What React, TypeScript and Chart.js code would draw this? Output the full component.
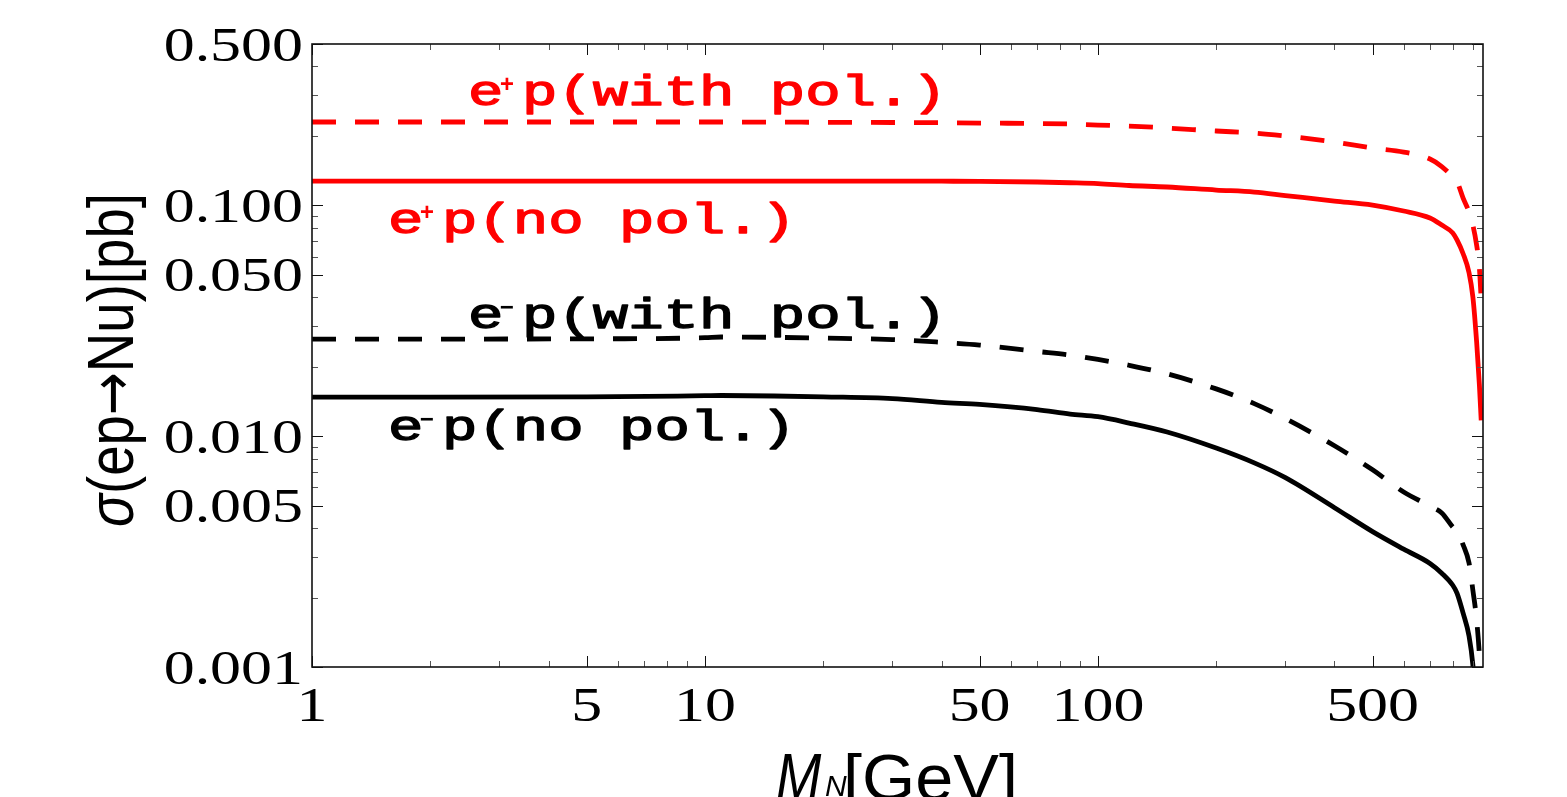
import React, { useEffect, useRef } from "react";
import { Chart, registerables } from "chart.js";

Chart.register(...registerables);

// ---- data ----
const massValues = [1, 2, 5, 10, 11, 15, 20, 30, 40, 50, 70, 85, 100, 120, 150, 200, 250, 300, 400, 500, 600, 700, 750, 800, 820, 850, 880, 900, 920, 935, 945];

const ePlusWithPol = [0.2296, 0.2296, 0.2296, 0.2296, 0.2296, 0.2294, 0.229, 0.2285, 0.228, 0.2273, 0.2262, 0.225, 0.2228, 0.2206, 0.2163, 0.2099, 0.2057, 0.1996, 0.1881, 0.1772, 0.1702, 0.1587, 0.1473, 0.1327, 0.1268, 0.1075, 0.0936, 0.0821, 0.0673, 0.0535, 0.0389];
const ePlusNoPol = [0.1274, 0.1274, 0.1274, 0.1274, 0.1274, 0.1274, 0.1274, 0.1273, 0.1272, 0.127, 0.1262, 0.1253, 0.1243, 0.1219, 0.1201, 0.1165, 0.1142, 0.1103, 0.1044, 0.1003, 0.0945, 0.0881, 0.0821, 0.0759, 0.0708, 0.0617, 0.0511, 0.0401, 0.0256, 0.0167, 0.0117];
const eMinusWithPol = [0.02635, 0.02635, 0.0264, 0.0267, 0.02689, 0.0268, 0.0266, 0.02622, 0.0255, 0.02482, 0.02329, 0.02246, 0.0215, 0.02029, 0.01862, 0.01603, 0.01384, 0.01192, 0.00909, 0.00715, 0.00573, 0.00498, 0.00465, 0.00404, 0.00388, 0.00338, 0.00282, 0.00215, 0.0016, 0.00113, 0.0008];
const eMinusNoPol = [0.01477, 0.01477, 0.0148, 0.01497, 0.015, 0.01493, 0.0148, 0.01455, 0.014, 0.01372, 0.01304, 0.01247, 0.01214, 0.0114, 0.01042, 0.00888, 0.00766, 0.00661, 0.0049, 0.00386, 0.00324, 0.00281, 0.00255, 0.00226, 0.00209, 0.00171, 0.00136, 0.00102, 0.0006, null, null];

const xMajorTicks = [1, 5, 10, 50, 100, 500];
const xTickLabels = ["1", "5", "10", "50", "100", "500"];
const xMinorTicks = [2, 3, 4, 6, 7, 8, 9, 20, 30, 40, 60, 70, 80, 90, 200, 300, 400, 600, 700, 800, 900];
const yMajorTicks = [0.5, 0.1, 0.05, 0.01, 0.005, 0.001];
const yTickLabels = ["0.500", "0.100", "0.050", "0.010", "0.005", "0.001"];
const yMinorTicks = [0.4, 0.3, 0.2, 0.09, 0.08, 0.07, 0.06, 0.04, 0.03, 0.02, 0.009, 0.008, 0.007, 0.006, 0.004, 0.003, 0.002];

const seriesNames = ["e⁺p(with pol.)", "e⁺p(no pol.)", "e⁻p(with pol.)", "e⁻p(no pol.)"];
const xTitle = "M_N[GeV]";
const yTitleParts = ["σ", "(ep", "→", "Nu)[pb]"];

const RED = "#ff0000";
const BLACK = "#000000";

function toPoints(vals: (number | null)[]) {
  return massValues.map((m, i) => ({ x: m, y: vals[i] }));
}

function drawStretched(ctx: CanvasRenderingContext2D, text: string, x: number, y: number, sx: number, align: CanvasTextAlign, strokeW = 0) {
  ctx.save();
  ctx.translate(x, y);
  ctx.scale(sx, 1);
  ctx.textAlign = align;
  ctx.fillText(text, 0, 0);
  if (strokeW > 0) {
    ctx.lineWidth = strokeW;
    ctx.lineJoin = "round";
    ctx.strokeStyle = ctx.fillStyle;
    ctx.strokeText(text, 0, 0);
  }
  ctx.restore();
}

const SANS = "'Liberation Sans', Arial, sans-serif";

const decorPlugin = {
  id: "decor",
  afterDraw(chart: any) {
    const ctx: CanvasRenderingContext2D = chart.ctx;
    const a = chart.chartArea;
    const xs = chart.scales.x;
    const ys = chart.scales.y;
    ctx.save();

    // ticks on all four sides (pointing inward)
    const tick = (x1: number, y1: number, x2: number, y2: number) => {
      ctx.beginPath();
      ctx.moveTo(x1, y1);
      ctx.lineTo(x2, y2);
      ctx.stroke();
    };
    ctx.lineWidth = 1;
    const majLen = 11;
    const minLen = 6;
    ctx.strokeStyle = "#111";
    xMajorTicks.forEach((v) => {
      const px = Math.round(xs.getPixelForValue(v)) + 0.5;
      tick(px, a.bottom, px, a.bottom - majLen);
      tick(px, a.top, px, a.top + majLen);
    });
    yMajorTicks.forEach((v) => {
      const py = Math.round(ys.getPixelForValue(v)) + 0.5;
      tick(a.left, py, a.left + majLen, py);
      tick(a.right, py, a.right - majLen, py);
    });
    ctx.strokeStyle = "#555";
    xMinorTicks.forEach((v) => {
      const px = Math.round(xs.getPixelForValue(v)) + 0.5;
      tick(px, a.bottom, px, a.bottom - minLen);
      tick(px, a.top, px, a.top + minLen);
    });
    yMinorTicks.forEach((v) => {
      const py = Math.round(ys.getPixelForValue(v)) + 0.5;
      tick(a.left, py, a.left + minLen, py);
      tick(a.right, py, a.right - minLen, py);
    });

    // frame
    ctx.strokeStyle = "#111";
    ctx.lineWidth = 1.6;
    ctx.strokeRect(a.left, a.top, a.right - a.left, a.bottom - a.top);

    // tick labels
    ctx.fillStyle = "#000";
    ctx.textBaseline = "alphabetic";
    ctx.font = "48px 'Liberation Serif', 'Times New Roman', serif";
    yMajorTicks.forEach((v, i) => {
      const py = ys.getPixelForValue(v);
      drawStretched(ctx, yTickLabels[i], 303, py + 16.5, 1.29, "right");
    });
    xMajorTicks.forEach((v, i) => {
      const px = xs.getPixelForValue(v);
      drawStretched(ctx, xTickLabels[i], px, 721, 1.29, "center");
    });

    // y title
    {
      const fonts = [
        "italic 64px " + SANS,
        "64px " + SANS,
        "60px 'DejaVu Sans', sans-serif",
        "64px " + SANS,
      ];
      const widths = yTitleParts.map((p, i) => {
        ctx.font = fonts[i];
        return ctx.measureText(p).width;
      });
      const W = widths.reduce((s, w) => s + w, 0);
      ctx.save();
      ctx.translate(133, 360);
      ctx.rotate(-Math.PI / 2);
      ctx.scale(334 / W, 1);
      ctx.textAlign = "left";
      let cx = -W / 2;
      yTitleParts.forEach((p, i) => {
        ctx.font = fonts[i];
        ctx.fillText(p, cx, i === 2 ? -1 : 0);
        cx += widths[i];
      });
      ctx.restore();
    }

    // x title: M_N[GeV]
    {
      const [mainPart, tail] = xTitle.split("_");
      const sub = tail.slice(0, 1);
      const unit = tail.slice(1);
      ctx.font = "italic 64px " + SANS;
      drawStretched(ctx, mainPart, 776, 799, 0.85, "left");
      ctx.font = "italic 30px " + SANS;
      drawStretched(ctx, sub, 825, 796, 1, "left");
      ctx.font = "64px " + SANS;
      const wu = ctx.measureText(unit).width;
      drawStretched(ctx, unit, 843, 800, 175 / wu, "left");
    }

    // curve annotations
    const monoFont = "43px 'Liberation Mono', 'DejaVu Sans Mono', monospace";
    const supFont = "bold 24px 'Liberation Mono', 'DejaVu Sans Mono', monospace";
    const cell = 35.4;
    ctx.font = monoFont;
    const sxMono = cell / ctx.measureText("e").width;
    const drawLabel = (name: string, x0: number, base: number, color: string) => {
      const head = name.slice(0, 1);
      const sup = name.slice(1, 2) === "⁺" ? "+" : "−";
      const rest = name.slice(2);
      ctx.fillStyle = color;
      ctx.font = monoFont;
      drawStretched(ctx, head, x0, base, sxMono, "left", 1.3);
      ctx.font = supFont;
      drawStretched(ctx, sup, x0 + 39, base - 13, 1, "center");
      ctx.font = monoFont;
      drawStretched(ctx, rest, x0 + 54, base, sxMono, "left", 1.3);
    };
    drawLabel(seriesNames[0], 468, 104.5, RED);
    drawLabel(seriesNames[1], 388, 233, RED);
    drawLabel(seriesNames[2], 468, 328, BLACK);
    drawLabel(seriesNames[3], 388, 440, BLACK);

    ctx.restore();
  },
};

export default function App() {
  const ref = useRef<HTMLCanvasElement>(null);
  useEffect(() => {
    if (!ref.current) return;
    const common = {
      pointRadius: 0,
      borderWidth: 4.8,
      fill: false,
      cubicInterpolationMode: "monotone" as const,
      borderCapStyle: "butt" as const,
      borderJoinStyle: "round" as const,
    };
    const chart = new Chart(ref.current, {
      type: "line",
      data: {
        datasets: [
          { ...common, label: seriesNames[3], data: toPoints(eMinusNoPol), borderColor: BLACK },
          { ...common, label: seriesNames[2], data: toPoints(eMinusWithPol), borderColor: BLACK, borderDash: [24, 19] },
          { ...common, label: seriesNames[1], data: toPoints(ePlusNoPol), borderColor: RED },
          { ...common, label: seriesNames[0], data: toPoints(ePlusWithPol), borderColor: RED, borderDash: [24, 19] },
        ],
      },
      options: {
        responsive: false,
        animation: false,
        events: [],
        layout: { padding: { left: 312, top: 44, right: 84, bottom: 130 } },
        plugins: { legend: { display: false }, tooltip: { enabled: false } },
        scales: {
          x: { type: "logarithmic", min: 1, max: 955, display: false },
          y: { type: "logarithmic", min: 0.001, max: 0.5, display: false },
        },
      },
      plugins: [decorPlugin],
    });
    return () => chart.destroy();
  }, []);
  return (
    <div style={{ position: "fixed", left: 0, top: 0, width: 1567, height: 797, background: "#fff" }}>
      <canvas ref={ref} width={1567} height={797} style={{ display: "block" }} />
    </div>
  );
}
